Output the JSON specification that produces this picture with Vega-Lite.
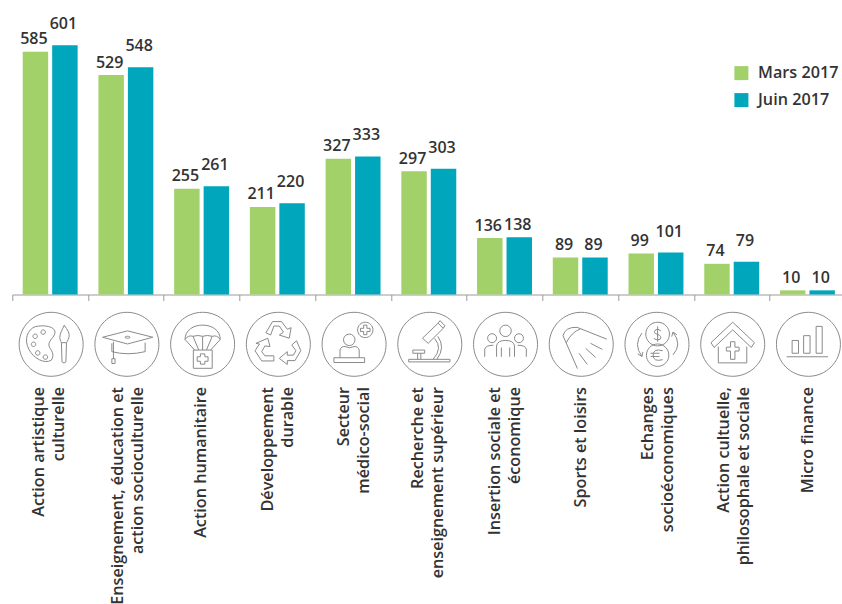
{
"$schema":"https://vega.github.io/schema/vega-lite/v6.json",
"autosize":"none",
"padding":{"left":12.3,"top":0,"right":0,"bottom":309},
"width":829.7,
"height":294.5,
"background":"white",
"config":{"view":{"stroke":null},"font":"Open Sans"},
"data":{"values":[
{"categorie":"Action artistique culturelle","serie":"Mars 2017","valeur":585},
{"categorie":"Action artistique culturelle","serie":"Juin 2017","valeur":601},
{"categorie":"Enseignement, éducation et action socioculturelle","serie":"Mars 2017","valeur":529},
{"categorie":"Enseignement, éducation et action socioculturelle","serie":"Juin 2017","valeur":548},
{"categorie":"Action humanitaire","serie":"Mars 2017","valeur":255},
{"categorie":"Action humanitaire","serie":"Juin 2017","valeur":261},
{"categorie":"Développement durable","serie":"Mars 2017","valeur":211},
{"categorie":"Développement durable","serie":"Juin 2017","valeur":220},
{"categorie":"Secteur médico-social","serie":"Mars 2017","valeur":327},
{"categorie":"Secteur médico-social","serie":"Juin 2017","valeur":333},
{"categorie":"Recherche et enseignement supérieur","serie":"Mars 2017","valeur":297},
{"categorie":"Recherche et enseignement supérieur","serie":"Juin 2017","valeur":303},
{"categorie":"Insertion sociale et économique","serie":"Mars 2017","valeur":136},
{"categorie":"Insertion sociale et économique","serie":"Juin 2017","valeur":138},
{"categorie":"Sports et loisirs","serie":"Mars 2017","valeur":89},
{"categorie":"Sports et loisirs","serie":"Juin 2017","valeur":89},
{"categorie":"Echanges socioéconomiques","serie":"Mars 2017","valeur":99},
{"categorie":"Echanges socioéconomiques","serie":"Juin 2017","valeur":101},
{"categorie":"Action cultuelle, philosophale et sociale","serie":"Mars 2017","valeur":74},
{"categorie":"Action cultuelle, philosophale et sociale","serie":"Juin 2017","valeur":79},
{"categorie":"Micro finance","serie":"Mars 2017","valeur":10},
{"categorie":"Micro finance","serie":"Juin 2017","valeur":10}
]},
"encoding":{
"x":{"field":"categorie","type":"nominal","sort":null,
"scale":{"range":[0,833],"paddingInner":0,"paddingOuter":0},
"title":null,
"axis":{"domainColor":"#9a9a9a","domainWidth":1,"tickColor":"#9a9a9a","tickWidth":1,"tickSize":6,"tickBand":"extent","labelAngle":-90,"labelAlign":"right","labelBaseline":"middle","labelPadding":86,"labelFont":"Open Sans","labelFontSize":16.2,"labelFontWeight":600,"labelColor":"#333333","labelLineHeight":20,"labelLimit":400,"labelOverlap":false,"labelBound":false,"labelFlush":false,"grid":false,
"labelOffset":{"condition":[
{"test":"datum.value=='Action humanitaire'","value":-1},
{"test":"datum.value=='Sports et loisirs'","value":0},
{"test":"datum.value=='Micro finance'","value":0},
{"test":"datum.value=='Action artistique culturelle'","value":-11.5},
{"test":"datum.value=='Enseignement, éducation et action socioculturelle'","value":-8},
{"test":"datum.value=='Recherche et enseignement supérieur'","value":-11},
{"test":"datum.value=='Echanges socioéconomiques'","value":-8},
{"test":"datum.value=='Action cultuelle, philosophale et sociale'","value":-8}
],"value":-10},
"labelExpr":"{'Action artistique culturelle':['Action artistique','culturelle'],'Enseignement, éducation et action socioculturelle':['Enseignement, éducation et','action socioculturelle'],'Développement durable':['Développement','durable'],'Secteur médico-social':['Secteur','médico-social'],'Recherche et enseignement supérieur':['Recherche et','enseignement supérieur'],'Insertion sociale et économique':['Insertion sociale et','économique'],'Echanges socioéconomiques':['Echanges','socioéconomiques'],'Action cultuelle, philosophale et sociale':['Action cultuelle,','philosophale et sociale']}[datum.label] || datum.label"}}
},
"layer":[
{"mark":{"type":"bar"},
"encoding":{
"xOffset":{"field":"serie","type":"nominal","sort":["Mars 2017","Juin 2017"],"scale":{"paddingInner":0.136,"paddingOuter":0.353}},
"y":{"field":"valeur","type":"quantitative","scale":{"domain":[0,710],"nice":false},"axis":null},
"color":{"field":"serie","type":"nominal","scale":{"domain":["Mars 2017","Juin 2017"],"range":["#a2d16a","#00a7bc"]},
"legend":{"title":null,"orient":"none","legendX":721,"legendY":65,"symbolType":"square","symbolSize":196,"symbolStrokeWidth":0,"rowPadding":10,"labelOffset":8.5,"labelFont":"Open Sans","labelFontSize":16.2,"labelFontWeight":600,"labelColor":"#333333","labelLimit":200}}
}},
{"transform":[{"filter":{"not":{"and":[{"field":"serie","equal":"Juin 2017"},{"field":"valeur","oneOf":[601,548,261,220,333,303,101,79]}]}}}],
"mark":{"type":"text","baseline":"alphabetic","dy":-7.5,"dx":-1.5,"font":"Open Sans","fontSize":16,"fontWeight":600,"color":"#333333"},
"encoding":{"xOffset":{"field":"serie","type":"nominal","sort":["Mars 2017","Juin 2017"]},"y":{"field":"valeur","type":"quantitative"},"text":{"field":"valeur","type":"quantitative"}}},
{"transform":[{"filter":{"and":[{"field":"serie","equal":"Juin 2017"},{"field":"valeur","oneOf":[601,548,261,220,333,303,101,79]}]}}],
"mark":{"type":"text","baseline":"alphabetic","dy":-16,"dx":-1.5,"font":"Open Sans","fontSize":16,"fontWeight":600,"color":"#333333"},
"encoding":{"xOffset":{"field":"serie","type":"nominal","sort":["Mars 2017","Juin 2017"]},"y":{"field":"valeur","type":"quantitative"},"text":{"field":"valeur","type":"quantitative"}}},
{"transform":[{"filter":{"field":"serie","equal":"Mars 2017"}}],
"mark":{"type":"point","filled":false,"stroke":"#8a8a8a","strokeWidth":1,"size":4096,"opacity":1,"yOffset":49.8,"xOffset":1},
"encoding":{
"y":{"datum":0,"type":"quantitative"},
"shape":{"field":"categorie","type":"nominal","legend":null,"scale":{
"domain":["Action artistique culturelle","Enseignement, éducation et action socioculturelle","Action humanitaire","Développement durable","Secteur médico-social","Recherche et enseignement supérieur","Insertion sociale et économique","Sports et loisirs","Echanges socioéconomiques","Action cultuelle, philosophale et sociale","Micro finance"],
"range":[
"M-1,0A1,1 0 1,1 1,0A1,1 0 1,1 -1,0Z M-.5,-.55C-.2,-.62 .12,-.55 .12,-.38C.12,-.2 -.15,-.1 -.05,.1C.05,.25 .1,.35 0,.5C-.2,.62 -.55,.45 -.7,.15C-.85,-.15 -.75,-.45 -.5,-.55Z M-.32,-.38a.07,.07 0 1,1 .14,0a.07,.07 0 1,1 -.14,0Z M-.57,-.25a.07,.07 0 1,1 .14,0a.07,.07 0 1,1 -.14,0Z M-.62,0a.07,.07 0 1,1 .14,0a.07,.07 0 1,1 -.14,0Z M-.49,.27a.07,.07 0 1,1 .14,0a.07,.07 0 1,1 -.14,0Z M-.25,.4a.07,.07 0 1,1 .14,0a.07,.07 0 1,1 -.14,0Z M.41,-.6C.5,-.45 .6,-.35 .55,-.2C.52,-.12 .5,-.08 .48,-.05L.32,-.05C.3,-.1 .27,-.15 .27,-.22C.27,-.35 .35,-.45 .41,-.6Z M.32,-.05L.34,.55Q.4,.62 .46,.55L.48,-.05",
"M-1,0A1,1 0 1,1 1,0A1,1 0 1,1 -1,0Z M-.76,-.22L.02,-.42L.81,-.22L.02,-.01Z M-.47,-.03L-.47,.23Q.02,.36 .57,.23L.57,-.05 M-.42,-.08L-.42,.45 M-.47,.45L-.37,.45L-.37,.6L-.47,.6Z M-.06,-.22a.08,.03 0 1,1 .16,0a.08,.03 0 1,1 -.16,0Z",
"M-1,0A1,1 0 1,1 1,0A1,1 0 1,1 -1,0Z M-.55,-.15C-.55,-.75 .55,-.75 .55,-.15Q.45,-.3 .3,-.25Q.15,-.3 0,-.25Q-.15,-.3 -.3,-.25Q-.45,-.3 -.55,-.15Z M-.55,-.15L-.25,.18 M-.3,-.25L-.12,.18 M0,-.25L0,.18 M.3,-.25L.12,.18 M.55,-.15L.25,.18 M-.29,.18L.3,.18L.3,.75L-.29,.75Z M-.07,.3L.07,.3L.07,.39L.17,.39L.17,.53L.07,.53L.07,.62L-.07,.62L-.07,.53L-.17,.53L-.17,.39L-.07,.39Z",
"M-1,0A1,1 0 1,1 1,0A1,1 0 1,1 -1,0Z M-.7,-.03L-.33,-.19L-.26,.07L-.42,.05L-.52,.23L-.42,.36L-.14,.36L-.14,.52L-.52,.52L-.73,.2L-.59,-.01Z M.03,.44L.28,.23L.28,.34L.47,.34L.55,.2L.42,.02L.57,-.11L.7,.2L.52,.51L.28,.51L.28,.63Z M-.39,-.36L-.18,-.71L.1,-.71L.28,-.47L.4,-.52L.34,-.19L.03,-.29L.16,-.38L.03,-.57L-.14,-.57L-.24,-.29Z",
"M-1,0A1,1 0 1,1 1,0A1,1 0 1,1 -1,0Z M-.33,-.14a.18,.18 0 1,1 .36,0a.18,.18 0 1,1 -.36,0Z M-.44,.42L-.44,.18Q-.4,.05 -.28,.07Q-.15,.15 0,.07Q.12,.05 .16,.18L.16,.42 M-.63,.42L.33,.42L.33,.57L-.63,.57Z M.11,-.45a.24,.24 0 1,1 .48,0a.24,.24 0 1,1 -.48,0Z M.3,-.6L.4,-.6L.4,-.5L.5,-.5L.5,-.4L.4,-.4L.4,-.3L.3,-.3L.3,-.4L.2,-.4L.2,-.5L.3,-.5Z",
"M-1,0A1,1 0 1,1 1,0A1,1 0 1,1 -1,0Z M-.66,.47L.63,.47L.63,.55L-.66,.55Z M-.53,.18L-.16,.18L-.16,.28L-.53,.28Z M-.38,.28L-.38,.47 M-.28,.28L-.28,.47 M.15,-.18Q.42,.12 .1,.47 M.25,-.25Q.5,.1 .22,.47 M-.23,-.19L.26,-.66L.42,-.5L-.05,-.03Z M.26,-.66L.32,-.74L.47,-.58L.42,-.5",
"M-1,0A1,1 0 1,1 1,0A1,1 0 1,1 -1,0Z M-.18,-.42a.18,.18 0 1,1 .36,0a.18,.18 0 1,1 -.36,0Z M-.28,.39L-.28,.05C-.28,-.18 .28,-.18 .28,.05L.28,.39 M-.13,.39L-.13,.1 M.13,.39L.13,.1 M-.56,-.19a.14,.14 0 1,1 .28,0a.14,.14 0 1,1 -.28,0Z M.28,-.19a.14,.14 0 1,1 .28,0a.14,.14 0 1,1 -.28,0Z M-.65,.39L-.65,.15Q-.62,.03 -.38,.03 M.65,.39L.65,.15Q.62,.03 .38,.03",
"M-1,0A1,1 0 1,1 1,0A1,1 0 1,1 -1,0Z M-.57,-.27Q-.5,-.55 -.13,-.53L.8,-.16 M-.57,-.27L-.12,.76 M-.47,-.05Q-.3,-.38 -.03,-.48 M.29,-.03L.66,.16 M.14,.13L.45,.41 M-.07,.28L.19,.63",
"M-1,0A1,1 0 1,1 1,0A1,1 0 1,1 -1,0Z M-.35,-.32a.37,.37 0 1,1 .74,0a.37,.37 0 1,1 -.74,0Z M-.33,.34a.35,.35 0 1,1 .7,0a.35,.35 0 1,1 -.7,0Z M.12,-.42Q.02,-.52 -.06,-.44Q-.12,-.34 .02,-.31Q.16,-.26 .1,-.16Q.02,-.1 -.1,-.18 M.02,-.56L.02,-.08 M.18,.2Q-.12,.12 -.12,.34Q-.12,.56 .18,.48 M-.2,.28L.08,.28 M-.2,.38L.08,.38 M-.47,-.35Q-.75,0 -.47,.38 M-.6,.3L-.47,.38L-.44,.24 M.5,.33Q.8,0 .5,-.38 M.62,-.3L.5,-.38L.46,-.24",
"M-1,0A1,1 0 1,1 1,0A1,1 0 1,1 -1,0Z M-.68,-.05L0,-.69L.68,-.05L.58,.1L0,-.45L-.58,.1Z M-.45,.07L-.45,.58L.44,.58L.44,.07 M-.07,-.08L.07,-.08L.07,.09L.2,.09L.2,.21L.07,.21L.07,.47L-.07,.47L-.07,.21L-.2,.21L-.2,.09L-.07,.09Z",
"M-1,0A1,1 0 1,1 1,0A1,1 0 1,1 -1,0Z M-.68,.39L.61,.39 M-.51,-.12L-.31,-.12L-.31,.28L-.51,.28Z M-.15,-.27L.05,-.27L.05,.28L-.15,.28Z M.24,-.56L.43,-.56L.43,.28L.24,.28Z"
]}}
}}
]
}
